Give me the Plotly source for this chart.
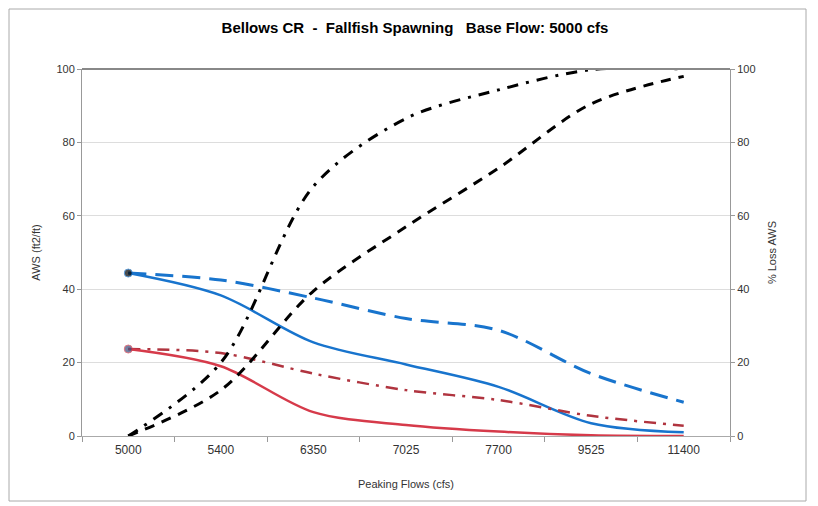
import plotly.graph_objects as go

categories = ["5000", "5400", "6350", "7025", "7700", "9525", "11400"]

aws_blue_solid = [44.4, 38.3, 25.5, 19.5, 13.4, 3.5, 1.0]
aws_blue_dash = [44.4, 42.5, 37.6, 32.0, 28.8, 17.0, 9.2]
aws_red_solid = [23.7, 19.0, 6.5, 3.0, 1.2, 0.2, 0.0]
aws_red_dashdot = [23.7, 22.6, 17.0, 12.5, 9.8, 5.5, 2.8]
loss_black_dashdot = [0.0, 20.0, 68.0, 86.5, 94.3, 99.8, 100.0]
loss_black_dash = [0.0, 12.5, 39.5, 57.0, 73.0, 90.5, 98.0]

marker_sizes = [8, 0, 0, 0, 0, 0, 0]

FONT = "Arial, Liberation Sans, sans-serif"
BLUE = "#1874CD"
RED = "#D63A4A"
RED_DD = "#B0343F"

# page offset (browser body margin)
OFF = 8
W, H = 818 - OFF, 506 - OFF
L, R, T, B = 82 - OFF, 818 - 730, 69 - OFF, 506 - 436
PW, PH = W - L - R, H - T - B

fig = go.Figure()

fig.add_trace(go.Scatter(x=categories, y=aws_blue_dash, mode="lines",
                         line=dict(color=BLUE, width=3, dash="18px,9px", shape="spline", smoothing=0.9),
                         showlegend=False))
fig.add_trace(go.Scatter(x=categories, y=aws_blue_solid, mode="lines+markers",
                         line=dict(color=BLUE, width=2.5, shape="spline", smoothing=0.9),
                         marker=dict(size=marker_sizes, color="black"),
                         showlegend=False))
fig.add_trace(go.Scatter(x=categories, y=aws_red_dashdot, mode="lines",
                         line=dict(color=RED_DD, width=2.5, dash="12px,7px,3px,7px", shape="spline", smoothing=0.9),
                         showlegend=False))
fig.add_trace(go.Scatter(x=categories, y=aws_red_solid, mode="lines+markers",
                         line=dict(color=RED, width=2.5, shape="spline", smoothing=0.9),
                         marker=dict(size=marker_sizes, color="#3A4A7A"),
                         showlegend=False))
fig.add_trace(go.Scatter(x=categories, y=loss_black_dashdot, mode="lines", yaxis="y2",
                         line=dict(color="black", width=3, dash="11px,8px,3px,8px", shape="spline", smoothing=0.9),
                         showlegend=False))
fig.add_trace(go.Scatter(x=categories, y=loss_black_dash, mode="lines", yaxis="y2",
                         line=dict(color="black", width=3, dash="10px,8px", shape="spline", smoothing=0.9),
                         showlegend=False))

axis_font = dict(family=FONT, size=11, color="#333333")
xtick_font = dict(family=FONT, size=12, color="#333333")

fig.update_layout(
    width=W, height=H,
    margin=dict(l=L, r=R, t=T, b=B, autoexpand=False),
    paper_bgcolor="white", plot_bgcolor="white",
    title=dict(text="<b>Bellows CR  -  Fallfish Spawning   Base Flow: 5000 cfs</b>",
               x=(415 - OFF) / W, xanchor="center", y=1 - (28 - OFF) / H, yanchor="middle",
               font=dict(family=FONT, size=15, color="black")),
    xaxis=dict(type="category", tickson="boundaries", ticks="outside", ticklen=5,
               tickcolor="#999999", showline=True, linecolor="#aaaaaa", linewidth=1,
               showgrid=False, tickfont=xtick_font, range=[-0.5, 6.5], ticklabelstandoff=3,
               title=dict(text="Peaking Flows (cfs)", font=dict(family=FONT, size=11, color="#333333"), standoff=23)),
    yaxis=dict(range=[0, 100], tickvals=[0, 20, 40, 60, 80, 100], ticks="outside", ticklen=4,
               tickcolor="#999999", showline=True, linecolor="#999999", linewidth=1,
               showgrid=True, gridcolor="#dddddd", gridwidth=1, zeroline=False,
               tickfont=axis_font,
               title=dict(text="AWS (ft2/ft)", font=dict(family=FONT, size=11, color="#333333"), standoff=13)),
    yaxis2=dict(range=[0, 100], tickvals=[0, 20, 40, 60, 80, 100], overlaying="y", side="right",
                ticks="outside", ticklen=4, tickcolor="#999999", showline=True, linecolor="#999999",
                linewidth=1, showgrid=False, zeroline=False, tickfont=axis_font,
                title=dict(text="% Loss AWS", font=dict(family=FONT, size=11, color="#333333"), standoff=13)),
    shapes=[
        dict(type="line", xref="paper", yref="paper", x0=0, x1=1, y0=1, y1=1,
             line=dict(color="#888888", width=2)),
        dict(type="rect", xref="paper", yref="paper",
             x0=(9 - 82) / PW, x1=(806 - 82) / PW, y0=(436 - 501) / PH, y1=(436 - 9) / PH,
             line=dict(color="#aaaaaa", width=1)),
    ],
)

fig.write_html("out.html")
